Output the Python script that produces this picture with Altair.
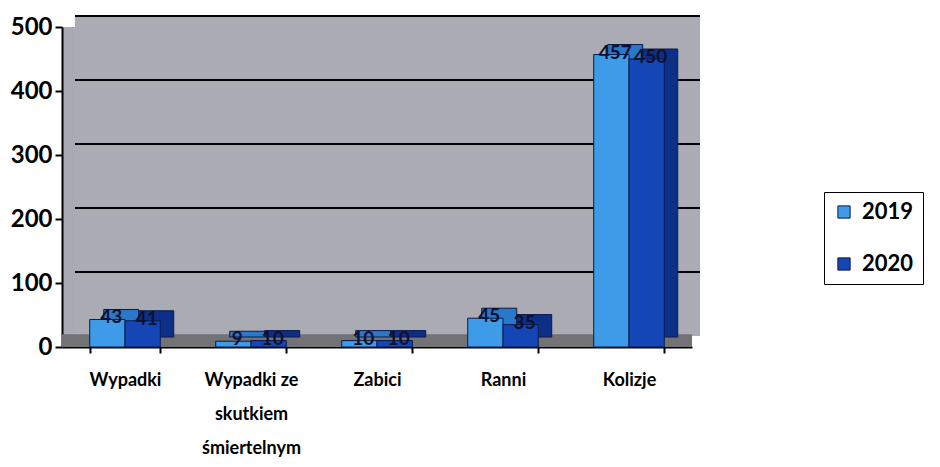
import altair as alt
import pandas as pd

categories = ["Wypadki", "Wypadki ze|skutkiem|śmiertelnym", "Zabici", "Ranni", "Kolizje"]
years = ["2019", "2020"]
values_2019 = [43, 9, 10, 45, 457]
values_2020 = [41, 10, 10, 35, 450]
y_ticks = [0, 100, 200, 300, 400, 500]
grid_lines = [100, 200, 300, 400, 500]
colors = ["#3d9be8", "#1446b5"]
depth_colors = ["#2a78c8", "#0c2f88"]

rows = []
for c, a, b in zip(categories, values_2019, values_2020):
    rows.append({"cat": c, "year": "2019", "value": a})
    rows.append({"cat": c, "year": "2020", "value": b})
df = pd.DataFrame(rows)

FONT = "Lato"

x_enc = alt.X(
    "cat:N", sort=categories,
    scale=alt.Scale(paddingInner=0.44, paddingOuter=0.22),
    axis=alt.Axis(title=None, labelAngle=0, labelExpr="split(datum.label, '|')",
                  labelFont=FONT, labelFontSize=18, labelFontWeight="bold", labelColor="black",
                  labelLineHeight=34, labelPadding=18, tickBand="extent", tickSize=6,
                  tickColor="black", tickWidth=2, domainColor="black", domainWidth=2,
                  grid=False),
)
y_axis = alt.Axis(values=y_ticks, title=None, grid=False, labelFont=FONT, labelFontSize=24,
                  labelFontWeight="bold", labelColor="black", tickSize=7, tickColor="black",
                  tickWidth=2, domainColor="black", domainWidth=2,
                  minExtent=54, maxExtent=54, labelPadding=3)
y_scale = alt.Scale(domain=[0, 500])
xoff = alt.XOffset("year:N", sort=years, scale=alt.Scale(paddingInner=0))
xoff_depth = alt.XOffset("year:N", sort=years,
                         scale=alt.Scale(domain=years, range=[14, 84], paddingInner=0))

# back wall (decorative, shifted for a 3D look)
wall = alt.Chart(pd.DataFrame({"a": [0]})).mark_rect(
    color="#abacb3", yOffset=-11, y2Offset=-11
).encode(
    y=alt.Y(datum=500, type="quantitative", scale=y_scale, axis=y_axis),
    y2=alt.datum(0),
    x=alt.value(13), x2=alt.value(638),
)

grid = alt.Chart(pd.DataFrame({"g": grid_lines})).mark_rule(
    color="black", strokeWidth=2, yOffset=-11
).encode(
    y=alt.Y("g:Q"), x=alt.value(13), x2=alt.value(638)
)

floor = alt.Chart(pd.DataFrame({"a": [0]})).mark_rect(color="#737375").encode(
    y=alt.Y(datum=0, type="quantitative"), y2=alt.datum(20)
)

depth = alt.Chart(df).mark_bar(
    stroke="#0a1a4a", strokeWidth=1, yOffset=-10, y2Offset=-10
).encode(
    x=x_enc, xOffset=xoff_depth, y=alt.Y("value:Q"),
    color=alt.Color("year:N", sort=years, scale=alt.Scale(domain=years, range=depth_colors),
                    legend=None),
)

bars = alt.Chart(df).mark_bar(stroke="#0a1a4a", strokeWidth=1).encode(
    x=x_enc, xOffset=xoff, y=alt.Y("value:Q"),
    fill=alt.Fill("year:N", sort=years, scale=alt.Scale(domain=years, range=colors),
                  legend=alt.Legend(title=None, orient="none", legendX=762, legendY=165,
                                    symbolType="square", symbolSize=150,
                                    symbolStrokeColor="#0a1a4a", symbolStrokeWidth=1,
                                    labelFont=FONT, labelFontSize=22, labelFontWeight="bold",
                                    labelColor="black", strokeColor="black", fillColor="white",
                                    padding=9, rowPadding=30, labelOffset=7)),
)

labels = alt.Chart(df).mark_text(baseline="alphabetic", dy=4, dx=4, font=FONT, fontSize=19,
                                  fontWeight="bold", color="#101030").encode(
    x=alt.X("cat:N", sort=categories), xOffset=xoff, y=alt.Y("value:Q"), text="value:Q"
)

chart = alt.layer(wall, grid, floor, depth, bars, labels).resolve_scale(
    color="independent", xOffset="independent"
).properties(
    width=630, height=320,
    padding={"left": 0, "top": 7, "right": 0, "bottom": 0},
    background="white",
).configure_view(fill="#a9a9b1", strokeWidth=0)

chart.save("out.html", embed_options={"renderer": "svg", "actions": False})
